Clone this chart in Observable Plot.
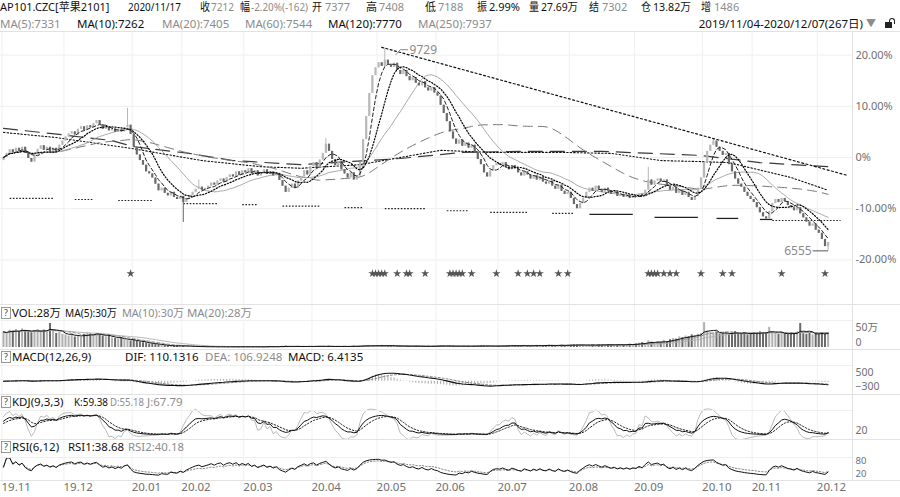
<!DOCTYPE html>
<html><head><meta charset="utf-8">
<script src="https://cdn.jsdelivr.net/npm/d3@7"></script>
<script src="https://cdn.jsdelivr.net/npm/@observablehq/plot@0.6"></script>
<style>
body{margin:0;background:#fff;font-family:"Noto Sans","Noto Sans CJK SC",sans-serif;}
#wrap{position:relative;width:900px;height:497px;overflow:hidden;background:#fff;}
.t{position:absolute;white-space:nowrap;font-size:11.5px;line-height:13px;}
.g{color:#8c8c8c}.k{color:#111}
.hl{position:absolute;left:0;width:900px;height:1px;background:#e2e2e2}
.hl2{position:absolute;left:0;width:852px;height:1px;background:#efefef}
.p{position:absolute;left:0}
.q{position:absolute;width:8px;height:10px;border:1px solid #999;font-size:9px;line-height:10px;text-align:center;color:#444}
</style></head><body><div id="wrap"></div>
<script>
// ---------- data ----------
const monthLabels = ["19.11","19.12","20.01","20.02","20.03","20.04","20.05","20.06","20.07","20.08","20.09","20.10","20.11","20.12"];
const monthDays   = [20,22,16,20,22,21,19,20,23,21,22,16,21,4];
const basePrice = 8017;           // price at 0%
const peakPrice = 9729, troughPrice = 6555;
// daily close, % vs base
const closePct = [
 0.0,0.8,1.5,0.9,1.8,1.2,2.0,0.8,-0.2,-0.9,0.5,1.6,2.3,1.4,2.0,1.1,1.8,1.0,2.4,3.2,
 4.0,4.6,5.0,4.4,5.5,6.0,5.3,6.2,5.8,6.6,7.2,6.4,5.5,5.9,5.2,5.6,4.9,5.4,5.0,5.8,6.3,4.5,
 2.0,0.5,-0.6,-1.5,-2.8,-3.2,-4.0,-5.2,-6.5,-6.0,-7.0,-7.5,-6.8,-7.8,-8.2,-7.6,
 -8.8,-8.0,-7.4,-6.8,-6.2,-5.8,-6.4,-6.0,-5.6,-5.0,-5.4,-4.6,-4.2,-4.8,-3.9,-3.4,-3.8,-2.8,-3.5,-2.6,
 -3.0,-2.2,-3.2,-2.6,-3.6,-3.0,-2.4,-3.3,-2.8,-3.6,-3.1,-4.5,-5.6,-6.8,-6.0,-5.2,-6.0,-4.6,-3.8,-2.6,-3.4,-1.8,
 -1.0,-2.0,-0.5,0.8,2.6,1.2,-0.4,-1.6,-0.8,-2.4,-3.2,-4.0,-3.0,-4.4,-3.6,-1.0,3.5,8.0,12.5,16.0,17.5,
 18.5,17.8,19.0,18.2,17.6,18.4,17.0,16.2,17.0,15.8,15.0,15.6,14.5,14.0,14.8,13.6,13.0,13.6,12.6,
 12.0,10.2,8.6,7.0,5.0,3.6,2.6,3.4,2.2,2.8,1.8,2.4,1.0,-0.4,-1.4,-3.0,-3.8,-2.6,-1.6,-1.2,
 -1.5,-1.0,-1.8,-2.4,-1.6,-2.2,-3.0,-3.6,-2.8,-3.4,-4.2,-3.6,-4.4,-3.8,-4.8,-5.2,-4.6,-5.6,-6.2,-5.4,-6.6,-7.2,-6.8,
 -8.0,-9.2,-10.0,-9.0,-8.0,-6.8,-6.0,-6.6,-5.6,-6.2,-6.8,-6.0,-6.6,-7.2,-6.8,-7.6,-7.2,-7.8,-7.4,-8.0,-7.6,
 -7.8,-7.2,-7.6,-6.4,-4.4,-5.4,-4.6,-4.2,-4.8,-4.4,-5.6,-6.4,-5.8,-7.0,-6.4,-7.4,-6.8,-7.8,-8.4,-7.6,-6.0,-4.0,
 -1.0,1.2,2.4,3.2,2.0,1.2,0.4,0.8,-1.4,-2.8,-4.2,-5.2,-5.8,-6.8,-7.6,-8.2,
 -8.8,-9.8,-10.8,-11.6,-12.0,-10.6,-9.0,-8.2,-8.8,-8.0,-8.6,-9.4,-9.8,-10.4,-9.8,-11.0,-11.8,-12.6,-13.4,-13.0,-14.2,
 -14.8,-16.0,-17.4,-16.6
];
const wickHigh = [[40,9.6],[63,-4.4],[104,3.7],[123,(peakPrice/basePrice-1)*100],[208,-1.9],[229,3.7]];
const wickLow  = [[58,-12.7],[266,(troughPrice/basePrice-1)*100]];
// daily volume (万)
const volume = [
 52,48,58,55,60,50,62,57,54,49,56,60,53,58,51,80,55,47,50,44,
 42,38,46,35,40,33,44,48,45,41,47,43,38,36,40,32,30,28,33,26,24,22,
 25,20,18,16,15,12,13,10,9,8,6,5,5,4,6,7,
 5,4,3,3,4,2,3,2,2,3,2,2,3,2,2,2,3,2,2,3,
 2,3,2,2,3,2,2,3,4,3,2,3,4,5,4,3,3,4,3,4,3,4,
 3,4,5,4,3,4,3,3,4,3,4,3,4,5,4,5,6,7,6,5,6,
 6,7,6,5,6,5,4,5,4,5,4,4,5,4,4,3,4,4,5,
 5,6,5,4,5,4,4,5,4,5,4,4,5,5,6,5,4,5,4,5,
 5,6,5,6,7,6,5,6,7,6,5,6,7,7,6,7,8,7,6,7,8,7,8,
 8,9,8,9,8,7,8,9,8,9,8,9,10,9,8,9,10,9,10,11,10,
 12,14,16,13,22,18,15,20,17,24,19,26,30,28,35,33,38,36,42,40,44,47,
 83,55,50,48,52,45,46,50,44,48,53,47,45,50,42,48,
 50,46,52,45,49,67,51,47,44,50,46,43,48,45,52,80,46,44,49,42,47,
 45,50,44,48
];
// long averages (need history before the window): [day, %]
const ma120Pts = [[0,4.9],[17,3.9],[41,1.8],[64,-0.6],[83,-1.8],[96,-2.1],[115,-1.4],[141,1.4],[157,1.0],[180,1.0],[196,0.8],[212,-0.6],[225,-0.8],[234,-1.0],[254,-3.9],[266,-6.4]];
const ma250Pts = [[0,5.7],[18,4.5],[35,3.3],[42,2.1],[60,0.8],[74,-0.6],[96,-1.4],[128,-0.2],[148,1.0],[167,1.2],[193,1.2],[225,0.4],[244,-1.0],[266,-1.8]];
// support line pieces: [fromDay, toDay, %, solid?]
const supportSegs = [[2,16,-8.0,0],[23,29,-8.2,0],[37,48,-8.4,0],[58,69,-9.0,0],[77,82,-9.2,0],[90,102,-9.5,0],[110,116,-9.8,0],[123,136,-10.0,0],[143,150,-10.4,0],[157,169,-10.7,0],[177,184,-10.9,0],[189,203,-11.1,1],[210,224,-11.7,1],[230,237,-11.9,1],[244,248,-12.1,1],[248,270,-12.3,0]];
const starDays = [41,119,120,121,122,123,127,130,131,136,144,145,146,147,148,151,159,166,169,171,173,179,182,208,209,210,211,213,215,217,225,232,235,251,265];
const trendAnchors = [[123,(peakPrice/basePrice-1)*100],[229,3.7]];
const trendEndDay = 272;
const yTicksMain = [20,10,0,-10,-20];
// header texts: [text, left, right, class]
const header1 = [["AP101.CZC[苹果2101]",0,113,"k"],["2020/11/17",128,181,"k"],["收",200,210,"k"],["7212",211,234,"g"],["幅",240,250,"k"],["-2.20%(-162)",251,308,"g"],["开",312,322,"k"],["7377",325,350,"g"],["高",366,377,"k"],["7408",379,404,"g"],["低",425,436,"k"],["7188",438,468,"g"],["振",477,487,"k"],["2.99%",489,523,"k"],["量",529,539,"k"],["27.69万",541,578,"k"],["结",589,599,"k"],["7302",602,631,"g"],["仓",641,651,"k"],["13.82万",653,691,"k"],["增",701,711,"k"],["1486",714,741,"g"]];
const header2 = [["MA(5):7331",0,73,"g"],["MA(10):7262",77,158,"k"],["MA(20):7405",162,240,"g"],["MA(60):7544",245,323,"g"],["MA(120):7770",328,413,"k"],["MA(250):7937",418,501,"g"]];
const rangeText = "2019/11/04-2020/12/07(267日)";
const panelLabels = [
  [306, [["VOL:28万",12,61,"k"],["MA(5):30万",65,117,"k"],["MA(10):30万",122,184,"g"],["MA(20):28万",187,252,"g"]]],
  [350, [["MACD(12,26,9)",12,120,"k"],["DIF: 110.1316",125,202,"k"],["DEA: 106.9248",205,285,"g"],["MACD: 6.4135",288,365,"k"]]],
  [395, [["KDJ(9,3,3)",12,71,"k"],["K:59.38",74,108,"k"],["D:55.18",110,144,"g"],["J:67.79",147,184,"g"]]],
  [440, [["RSI(6,12)",12,64,"k"],["RSI1:38.68",68,124,"k"],["RSI2:40.18",128,184,"g"]]]
];

// ---------- derived ----------
const N = closePct.length;
const monthStarts = monthDays.reduce((a,d,k)=>{a.push(k? a[k-1]+monthDays[k-1] : 0); return a;}, []);
const hiMap = new Map(wickHigh), loMap = new Map(wickLow);
const bars = closePct.map((c,i)=>{
  const o = i ? closePct[i-1] : -0.6;
  let h = Math.max(o,c), l = Math.min(o,c);
  if (hiMap.has(i)) h = Math.max(h, hiMap.get(i));
  if (loMap.has(i)) l = Math.min(l, loMap.get(i));
  return {i,o,c,h,l,up:c>=o,vol:volume[i]};
});
const ma = (arr,n)=>arr.map((_,i)=>{const s=arr.slice(Math.max(0,i-n+1),i+1);return {i,v:d3.mean(s)};});
const ma5 = ma(closePct,5), ma10 = ma(closePct,10), ma20 = ma(closePct,20), ma60 = ma(closePct,60);
const ma120 = ma120Pts.map(([i,v])=>({i,v})), ma250 = ma250Pts.map(([i,v])=>({i,v}));
const vma5 = ma(volume,5), vma10 = ma(volume,10), vma20 = ma(volume,20);
const price = closePct.map(p=>basePrice*(1+p/100));
let e12=0,e26=0,dea=0;
const macd = price.map((p,i)=>{ e12=i?(2*p+11*e12)/13:p; e26=i?(2*p+25*e26)/27:p; const dif=e12-e26; dea=i?(2*dif+8*dea)/10:dif; return {i,dif,dea,m:2*(dif-dea)}; });
let K=50,D=50;
const kdj = bars.map((b,i)=>{ const w=bars.slice(Math.max(0,i-8),i+1); const hh=d3.max(w,d=>d.h), ll=d3.min(w,d=>d.l); const rsv = hh>ll?(b.c-ll)/(hh-ll)*100:50; K=(2*K+rsv)/3; D=(2*D+K)/3; return {i,K,D,J:3*K-2*D}; });
function rsi(n){ let up=0,dn=0; return closePct.map((c,i)=>{ if(!i) return {i,v:50}; const d=c-closePct[i-1]; up=(Math.max(d,0)+(n-1)*up)/n; dn=(Math.abs(d)+(n-1)*dn)/n; return {i,v:dn?up/dn*100:50}; }); }
const rsi6 = rsi(6), rsi12 = rsi(12);
const slope = (trendAnchors[1][1]-trendAnchors[0][1])/(trendAnchors[1][0]-trendAnchors[0][0]);
const trend = [{i:trendAnchors[0][0]-1, v:trendAnchors[0][1]-slope},{i:trendEndDay, v:trendAnchors[0][1]+slope*(trendEndDay-trendAnchors[0][0])}];
const segs = supportSegs.map(([a,b,v,s])=>({a,b,v,s}));
const hiPt = {i:trendAnchors[0][0], v:trendAnchors[0][1]};
const loPt = {i:N-1, v:wickLow[wickLow.length-1][1]};

// ---------- layout ----------
const wrap = document.getElementById("wrap");
const FONT = "'Noto Sans','Noto Sans CJK SC',sans-serif";
const X = {domain:[0,N-1], range:[3, 3+3.1*(N-1)]};
function place(svg, top){ const d=document.createElement("div"); d.className="p"; d.style.top=top+"px"; d.appendChild(svg); wrap.appendChild(d); }
function line(cls, top){ const d=document.createElement("div"); d.className=cls; d.style.top=top+"px"; wrap.appendChild(d); }
function txt(s,left,top,cls,extra){ const d=document.createElement("div"); d.className="t "+(cls||""); d.style.left=left+"px"; d.style.top=top+"px"; d.textContent=s; if(extra) Object.assign(d.style,extra); wrap.appendChild(d); return d; }
function fit(el,maxW){ const w=el.getBoundingClientRect().width; if(w>maxW){ el.style.transformOrigin="0 50%"; el.style.transform=`scaleX(${(maxW/w).toFixed(3)})`; } }
const base = {width:900, marginLeft:0, marginRight:48, marginTop:0, marginBottom:0,
  style:{background:"transparent", fontFamily:FONT, fontSize:"11px", color:"#707070", overflow:"visible"}};
const vgrid = Plot.ruleX(monthStarts,{x:d=>d-0.5, stroke:"#f0f0f0"});
const upC = "#b8b8b8", dnC = "#6a6a6a";

const mainPlot = Plot.plot({...base, height:273,
  x:{...X, axis:null},
  y:{domain:[-20,20], range:[228.4,23.6]},
  marks:[
    Plot.ruleY(yTicksMain,{stroke:"#eeeeee"}),
    vgrid,
    Plot.axisY(yTicksMain,{anchor:"right", tickSize:0, tickPadding:3, label:null, tickFormat:d=>d===0?"0%":d.toFixed(2)+"%"}),
    Plot.link(segs.filter(d=>!d.s),{x1:"a",x2:"b",y1:"v",y2:"v",stroke:"#222",strokeWidth:1.2,strokeDasharray:"1.6,1.6"}),
    Plot.link(segs.filter(d=>d.s),{x1:"a",x2:"b",y1:"v",y2:"v",stroke:"#222",strokeWidth:1.3}),
    Plot.line(ma250,{x:"i",y:"v",stroke:"#3a3a3a",strokeWidth:1.2,strokeDasharray:"14,8"}),
    Plot.line(ma120,{x:"i",y:"v",stroke:"#111",strokeWidth:1.1,strokeDasharray:"1.5,2"}),
    Plot.line(ma60,{x:"i",y:"v",stroke:"#777",strokeWidth:1,strokeDasharray:"9,6"}),
    Plot.line(ma20,{x:"i",y:"v",stroke:"#a0a0a0",strokeWidth:0.9}),
    Plot.ruleX(bars,{x:"i",y1:"l",y2:"h",stroke:d=>d.up?upC:dnC,strokeWidth:1}),
    Plot.ruleX(bars,{x:"i",y1:"o",y2:"c",stroke:d=>d.up?upC:dnC,strokeWidth:2.2}),
    Plot.line(ma10,{x:"i",y:"v",stroke:"#000",strokeWidth:1.2,strokeDasharray:"1.2,1.8"}),
    Plot.line(ma5,{x:"i",y:"v",stroke:"#222",strokeWidth:1,strokeDasharray:"3.5,2.5"}),
    Plot.line(trend,{x:"i",y:"v",stroke:"#111",strokeWidth:1.2,strokeDasharray:"2,2.4"}),
    Plot.link([hiPt],{x1:d=>d.i+3.5,y1:d=>d.v-1.3,x2:d=>d.i+5,y2:d=>d.v-0.3,stroke:"#888"}),
    Plot.link([hiPt],{x1:d=>d.i+5,y1:d=>d.v-0.3,x2:d=>d.i+7.5,y2:d=>d.v-0.3,stroke:"#888"}),
    Plot.text([hiPt],{x:d=>d.i+8,y:d=>d.v-0.3,text:()=>String(peakPrice),textAnchor:"start",fill:"#8a8a8a",fontSize:12}),
    Plot.link([loPt],{x1:d=>d.i-5,x2:d=>d.i,y1:"v",y2:"v",stroke:"#555"}),
    Plot.text([loPt],{x:d=>d.i-5.3,y:"v",text:()=>String(troughPrice),textAnchor:"end",fill:"#8a8a8a",fontSize:12}),
    Plot.dot(starDays,{x:d=>d,y:()=>-22.66,symbol:"star",r:2.6,fill:"#555",stroke:null})
  ]});
place(mainPlot,31);

const volPlot = Plot.plot({...base, height:46,
  x:{...X, axis:null},
  y:{domain:[0,50], range:[43,28]},
  marks:[
    vgrid,
    Plot.axisY([0,50],{anchor:"right",tickSize:0,tickPadding:3,label:null,dy:-5,fontSize:10.5,tickFormat:d=>d?d+"万":"0"}),
    Plot.ruleX(bars,{x:"i",y1:0,y2:"vol",stroke:d=>d.up?"#b0b0b0":"#6a6a6a",strokeWidth:2}),
    Plot.line(vma20,{x:"i",y:"v",stroke:"#b0b0b0",strokeWidth:0.9}),
    Plot.line(vma10,{x:"i",y:"v",stroke:"#888",strokeWidth:0.9,strokeDasharray:"3,2"}),
    Plot.line(vma5,{x:"i",y:"v",stroke:"#111",strokeWidth:1})
  ]});
place(volPlot,304);

const macdPlot = Plot.plot({...base, height:44,
  x:{...X, axis:null},
  y:{domain:[-300,500], range:[36.0,21.98]},
  marks:[
    vgrid,
    Plot.axisY([500,-300],{anchor:"right",tickSize:0,tickPadding:3,label:null,fontSize:10.5}),
    Plot.ruleX(macd,{x:"i",y1:0,y2:"m",stroke:"#a8a8a8",strokeWidth:1}),
    Plot.line(macd,{x:"i",y:"dea",stroke:"#888",strokeWidth:1,strokeDasharray:"2,2"}),
    Plot.line(macd,{x:"i",y:"dif",stroke:"#111",strokeWidth:1.1})
  ]});
place(macdPlot,350);

const kdjPlot = Plot.plot({...base, height:46,
  x:{...X, axis:null},
  y:{domain:[0,100], range:[40,20]},
  marks:[
    vgrid,
    Plot.axisY([20],{anchor:"right",tickSize:0,tickPadding:3,label:null,fontSize:10.5}),
    Plot.line(kdj,{x:"i",y:"J",stroke:"#a8a8a8",strokeWidth:0.8,clip:true}),
    Plot.line(kdj,{x:"i",y:"D",stroke:"#222",strokeWidth:1,strokeDasharray:"1.5,1.8"}),
    Plot.line(kdj,{x:"i",y:"K",stroke:"#111",strokeWidth:1})
  ]});
place(kdjPlot,394);

const monthLabelOf = new Map(monthStarts.map((s,k)=>[s,monthLabels[k]]));
const rsiPlot = Plot.plot({...base, height:57, marginBottom:17,
  x:{...X},
  y:{domain:[0,100], range:[35.7,17.4]},
  marks:[
    vgrid,
    Plot.axisY([80],{anchor:"right",tickSize:0,tickPadding:3,label:null,fontSize:9.5,dy:-1}),
    Plot.axisY([20],{anchor:"right",tickSize:0,tickPadding:3,label:null,fontSize:9.5,dy:1.5}),
    Plot.axisX(monthStarts,{anchor:"bottom",tickSize:0,tickPadding:2,textAnchor:"start",dx:-2,label:null,tickFormat:d=>monthLabelOf.get(d),fontSize:11.5}),
    Plot.line(rsi12,{x:"i",y:"v",stroke:"#888",strokeWidth:1,strokeDasharray:"1.5,1.8",clip:true}),
    Plot.line(rsi6,{x:"i",y:"v",stroke:"#111",strokeWidth:1,clip:true})
  ]});
place(rsiPlot,440);

// separators
line("hl",31); line("hl",304); line("hl2",320); line("hl",349); line("hl2",365); line("hl",394); line("hl2",410); line("hl",439); line("hl2",457); line("hl",480);
const vl=document.createElement("div"); Object.assign(vl.style,{position:"absolute",left:"852px",top:"31px",width:"1px",height:"449px",background:"#e2e2e2"}); wrap.appendChild(vl);

// header
header1.forEach(([s,l,r,c])=>fit(txt(s,l,0,c,{fontSize:"11px"}),r-l));
header2.forEach(([s,l,r,c])=>fit(txt(s,l,16.5,c),r-l));
const rng = txt(rangeText,0,16.5,"k"); rng.style.left=""; rng.style.right="37px";
txt("▼",866,16.5,"g",{fontSize:"10px"});
const lk=document.createElement("div"); Object.assign(lk.style,{position:"absolute",left:"885px",top:"22px",width:"7px",height:"6px",background:"#222"}); wrap.appendChild(lk);
const lk2=document.createElement("div"); Object.assign(lk2.style,{position:"absolute",left:"889px",top:"18px",width:"4px",height:"5px",border:"1px solid #222",borderBottom:"none",borderRadius:"3px 3px 0 0"}); wrap.appendChild(lk2);

// panel labels
panelLabels.forEach(([top,items])=>{
  const q=document.createElement("div"); q.className="q"; q.textContent="?"; q.style.left="1px"; q.style.top=(top+1)+"px"; wrap.appendChild(q);
  items.forEach(([s,l,r,c])=>fit(txt(s,l,top,c),r-l));
});
</script></body></html>
